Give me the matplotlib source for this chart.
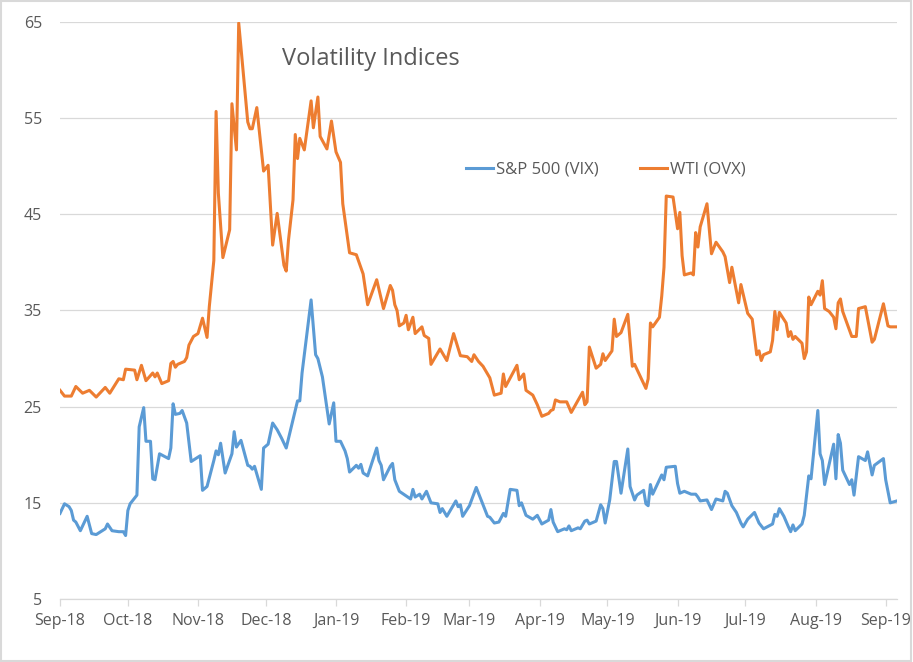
import numpy as np
import pandas as pd
import matplotlib
matplotlib.use("Agg")
import matplotlib.pyplot as plt
import matplotlib.dates as mdates
from matplotlib.patches import Rectangle

# ------------------------------------------------------------------
# data (turning points of each line)
# ------------------------------------------------------------------

vix_dates = [
    "2018-09-04", "2018-09-06", "2018-09-08", "2018-09-09", "2018-09-10", "2018-09-11",
    "2018-09-13", "2018-09-16", "2018-09-18", "2018-09-20", "2018-09-24", "2018-09-25",
    "2018-09-27", "2018-09-30", "2018-10-02", "2018-10-03", "2018-10-04", "2018-10-05",
    "2018-10-08", "2018-10-09", "2018-10-11", "2018-10-12", "2018-10-14", "2018-10-15",
    "2018-10-16", "2018-10-18", "2018-10-22", "2018-10-23", "2018-10-24", "2018-10-25",
    "2018-10-27", "2018-10-28", "2018-10-30", "2018-11-01", "2018-11-05", "2018-11-06",
    "2018-11-08", "2018-11-11", "2018-11-12", "2018-11-13", "2018-11-14", "2018-11-16",
    "2018-11-19", "2018-11-20", "2018-11-21", "2018-11-23", "2018-11-26", "2018-11-27",
    "2018-11-28", "2018-11-29", "2018-12-02", "2018-12-03", "2018-12-05", "2018-12-07",
    "2018-12-09", "2018-12-11", "2018-12-13", "2018-12-18", "2018-12-19", "2018-12-20",
    "2018-12-24", "2018-12-26", "2018-12-27", "2018-12-29", "2019-01-01", "2019-01-03",
    "2019-01-04", "2019-01-06", "2019-01-08", "2019-01-09", "2019-01-10", "2019-01-13",
    "2019-01-14", "2019-01-15", "2019-01-16", "2019-01-18", "2019-01-22", "2019-01-23",
    "2019-01-24", "2019-01-25", "2019-01-28", "2019-01-29", "2019-01-30", "2019-02-01",
    "2019-02-06", "2019-02-07", "2019-02-08", "2019-02-10", "2019-02-11", "2019-02-13",
    "2019-02-15", "2019-02-18", "2019-02-19", "2019-02-20", "2019-02-22", "2019-02-26",
    "2019-02-27", "2019-02-28", "2019-03-01", "2019-03-04", "2019-03-07", "2019-03-12",
    "2019-03-13", "2019-03-15", "2019-03-17", "2019-03-19", "2019-03-20", "2019-03-22",
    "2019-03-25", "2019-03-26", "2019-03-27", "2019-03-29", "2019-04-01", "2019-04-03",
    "2019-04-05", "2019-04-08", "2019-04-09", "2019-04-10", "2019-04-12", "2019-04-15",
    "2019-04-16", "2019-04-17", "2019-04-18", "2019-04-21", "2019-04-22", "2019-04-24",
    "2019-04-25", "2019-04-26", "2019-04-29", "2019-05-01", "2019-05-02", "2019-05-03",
    "2019-05-05", "2019-05-07", "2019-05-08", "2019-05-10", "2019-05-13", "2019-05-14",
    "2019-05-16", "2019-05-17", "2019-05-20", "2019-05-21", "2019-05-22", "2019-05-23",
    "2019-05-24", "2019-05-28", "2019-05-29", "2019-05-30", "2019-06-03", "2019-06-04",
    "2019-06-05", "2019-06-07", "2019-06-10", "2019-06-12", "2019-06-13", "2019-06-14",
    "2019-06-17", "2019-06-19", "2019-06-21", "2019-06-24", "2019-06-25", "2019-06-26",
    "2019-06-28", "2019-06-30", "2019-07-02", "2019-07-03", "2019-07-05", "2019-07-08",
    "2019-07-10", "2019-07-12", "2019-07-16", "2019-07-17", "2019-07-18", "2019-07-19",
    "2019-07-21", "2019-07-23", "2019-07-24", "2019-07-25", "2019-07-26", "2019-07-29",
    "2019-07-30", "2019-08-01", "2019-08-02", "2019-08-05", "2019-08-06", "2019-08-07",
    "2019-08-08", "2019-08-12", "2019-08-13", "2019-08-14", "2019-08-15", "2019-08-16",
    "2019-08-19", "2019-08-20", "2019-08-21", "2019-08-23", "2019-08-26", "2019-08-27",
    "2019-08-29", "2019-08-30", "2019-09-03", "2019-09-04", "2019-09-06", "2019-09-09",
]
vix_values = [
    13.9, 14.9, 14.6, 14.2, 13.2, 13.0,
    12.1, 13.6, 11.8, 11.7, 12.3, 12.8,
    12.1, 12.0, 12.0, 11.6, 14.2, 14.9,
    15.8, 22.9, 24.9, 21.4, 21.4, 17.5,
    17.4, 20.1, 19.6, 20.7, 25.3, 24.2,
    24.3, 24.6, 23.3, 19.3, 19.9, 16.3,
    16.7, 19.4, 20.4, 20.0, 21.2, 18.1,
    20.1, 22.4, 20.8, 21.5, 18.9, 18.8,
    18.5, 18.8, 16.4, 20.7, 21.1, 23.3,
    22.6, 21.7, 20.7, 25.6, 25.6, 28.5,
    36.1, 30.4, 30.0, 28.1, 23.2, 25.4,
    21.4, 21.4, 20.4, 19.6, 18.2, 18.9,
    18.6, 19.0, 18.1, 17.8, 20.7, 19.4,
    18.9, 17.4, 18.8, 19.1, 17.4, 16.2,
    15.4, 16.4, 15.6, 15.9, 15.4, 16.2,
    15.0, 14.9, 14.0, 14.4, 13.6, 15.2,
    14.6, 14.8, 13.6, 14.7, 16.6, 13.6,
    13.5, 12.9, 13.0, 13.9, 13.6, 16.4,
    16.3, 14.7, 15.0, 13.7, 13.3, 13.7,
    12.8, 13.2, 14.3, 13.0, 12.0, 12.3,
    12.2, 12.6, 12.1, 12.4, 12.3, 13.1,
    13.2, 12.8, 13.1, 14.8, 14.4, 12.9,
    15.3, 19.3, 19.3, 16.0, 20.6, 16.7,
    15.3, 15.8, 16.3, 14.9, 14.7, 16.9,
    15.9, 17.9, 17.4, 18.7, 18.8, 17.0,
    16.0, 16.2, 15.9, 15.9, 15.6, 15.2,
    15.3, 14.3, 15.4, 15.2, 16.2, 16.0,
    14.7, 14.0, 12.9, 12.5, 13.3, 14.0,
    12.9, 12.3, 12.8, 13.8, 13.6, 14.4,
    13.6, 12.5, 12.0, 12.7, 12.1, 12.8,
    13.7, 17.8, 17.5, 24.6, 20.1, 19.4,
    16.9, 21.1, 17.5, 22.1, 21.2, 18.4,
    16.9, 17.4, 15.8, 19.8, 19.4, 20.3,
    17.9, 18.9, 19.6, 17.4, 15.0, 15.2,
]

ovx_dates = [
    "2018-09-04", "2018-09-06", "2018-09-09", "2018-09-11", "2018-09-14", "2018-09-17",
    "2018-09-20", "2018-09-24", "2018-09-26", "2018-09-30", "2018-10-02", "2018-10-03",
    "2018-10-07", "2018-10-08", "2018-10-10", "2018-10-12", "2018-10-15", "2018-10-16",
    "2018-10-17", "2018-10-19", "2018-10-22", "2018-10-23", "2018-10-24", "2018-10-25",
    "2018-10-26", "2018-10-29", "2018-10-30", "2018-10-31", "2018-11-02", "2018-11-04",
    "2018-11-06", "2018-11-08", "2018-11-09", "2018-11-11", "2018-11-12", "2018-11-13",
    "2018-11-15", "2018-11-18", "2018-11-19", "2018-11-21", "2018-11-22", "2018-11-26",
    "2018-11-27", "2018-11-28", "2018-11-30", "2018-12-03", "2018-12-05", "2018-12-07",
    "2018-12-09", "2018-12-11", "2018-12-12", "2018-12-13", "2018-12-14", "2018-12-16",
    "2018-12-17", "2018-12-18", "2018-12-19", "2018-12-21", "2018-12-24", "2018-12-25",
    "2018-12-27", "2018-12-28", "2018-12-31", "2019-01-02", "2019-01-04", "2019-01-06",
    "2019-01-07", "2019-01-10", "2019-01-13", "2019-01-16", "2019-01-18", "2019-01-22",
    "2019-01-25", "2019-01-28", "2019-01-29", "2019-01-30", "2019-01-31", "2019-02-01",
    "2019-02-03", "2019-02-04", "2019-02-05", "2019-02-07", "2019-02-08", "2019-02-11",
    "2019-02-12", "2019-02-14", "2019-02-15", "2019-02-19", "2019-02-22", "2019-02-25",
    "2019-02-28", "2019-03-03", "2019-03-05", "2019-03-06", "2019-03-08", "2019-03-10",
    "2019-03-13", "2019-03-15", "2019-03-18", "2019-03-19", "2019-03-20", "2019-03-25",
    "2019-03-26", "2019-03-28", "2019-03-29", "2019-04-01", "2019-04-03", "2019-04-05",
    "2019-04-08", "2019-04-09", "2019-04-10", "2019-04-11", "2019-04-13", "2019-04-16",
    "2019-04-18", "2019-04-23", "2019-04-24", "2019-04-25", "2019-04-26", "2019-04-29",
    "2019-05-01", "2019-05-02", "2019-05-03", "2019-05-06", "2019-05-07", "2019-05-08",
    "2019-05-10", "2019-05-13", "2019-05-15", "2019-05-16", "2019-05-21", "2019-05-22",
    "2019-05-23", "2019-05-24", "2019-05-27", "2019-05-28", "2019-05-29", "2019-05-30",
    "2019-06-02", "2019-06-04", "2019-06-05", "2019-06-06", "2019-06-07", "2019-06-10",
    "2019-06-11", "2019-06-12", "2019-06-13", "2019-06-14", "2019-06-17", "2019-06-19",
    "2019-06-21", "2019-06-24", "2019-06-25", "2019-06-27", "2019-06-28", "2019-07-01",
    "2019-07-02", "2019-07-05", "2019-07-07", "2019-07-09", "2019-07-10", "2019-07-11",
    "2019-07-12", "2019-07-15", "2019-07-16", "2019-07-17", "2019-07-18", "2019-07-19",
    "2019-07-22", "2019-07-23", "2019-07-24", "2019-07-25", "2019-07-26", "2019-07-29",
    "2019-07-30", "2019-07-31", "2019-08-01", "2019-08-02", "2019-08-05", "2019-08-06",
    "2019-08-07", "2019-08-08", "2019-08-10", "2019-08-12", "2019-08-13", "2019-08-14",
    "2019-08-15", "2019-08-16", "2019-08-20", "2019-08-22", "2019-08-23", "2019-08-26",
    "2019-08-29", "2019-08-30", "2019-09-03", "2019-09-05", "2019-09-06", "2019-09-09",
]
ovx_values = [
    26.7, 26.1, 26.1, 27.1, 26.4, 26.7,
    26.0, 27.0, 26.4, 27.9, 27.8, 28.9,
    28.8, 27.8, 29.3, 27.7, 28.5, 28.1,
    28.5, 27.4, 27.7, 29.5, 29.7, 29.1,
    29.4, 29.7, 30.1, 31.4, 32.3, 32.6,
    34.2, 32.2, 35.4, 40.2, 55.7, 47.2,
    40.5, 43.4, 56.5, 51.7, 64.9, 54.6,
    53.9, 53.9, 56.1, 49.5, 50.1, 41.8,
    45.1, 41.5, 39.7, 39.1, 42.3, 46.5,
    53.3, 50.8, 52.9, 51.7, 56.8, 54.0,
    57.2, 53.1, 51.8, 54.7, 51.5, 50.4,
    46.1, 41.0, 40.8, 38.8, 35.6, 38.2,
    35.2, 37.6, 37.1, 35.6, 35.0, 33.4,
    33.7, 34.5, 33.0, 34.3, 32.6, 33.3,
    32.4, 32.1, 29.4, 31.0, 29.8, 32.6,
    30.3, 30.2, 29.7, 30.4, 29.7, 29.2,
    28.0, 26.2, 26.4, 28.4, 27.1, 29.3,
    27.8, 28.4, 26.7, 26.2, 25.2, 24.0,
    24.3, 24.6, 24.7, 25.7, 25.5, 25.5,
    24.4, 26.5, 25.2, 25.5, 31.2, 29.0,
    29.4, 30.5, 29.8, 30.8, 34.1, 32.3,
    32.7, 34.6, 29.2, 29.4, 26.9, 27.9,
    33.7, 33.3, 34.3, 36.5, 39.5, 46.9,
    46.8, 43.5, 45.2, 40.7, 38.7, 38.9,
    38.7, 43.1, 41.6, 43.7, 46.1, 40.9,
    42.1, 41.1, 40.6, 37.9, 39.5, 35.8,
    37.7, 34.7, 34.1, 30.4, 30.8, 29.8,
    30.4, 30.7, 31.9, 34.9, 33.0, 34.8,
    33.7, 32.3, 32.8, 32.0, 32.3, 31.6,
    30.0, 30.7, 36.4, 35.6, 37.0, 36.6,
    38.1, 35.2, 34.9, 34.3, 33.1, 35.8,
    36.2, 34.9, 32.3, 32.3, 35.2, 35.4,
    31.7, 32.0, 35.7, 33.4, 33.3, 33.3,
]

series_labels = ["S&P 500 (VIX)", "WTI (OVX)"]
series_colors = ["#5B9BD5", "#ED7D31"]
title_text = "Volatility Indices"
y_ticks = [5, 15, 25, 35, 45, 55, 65]

# ------------------------------------------------------------------
# figure
# ------------------------------------------------------------------

plt.rcParams["font.family"] = ["Open Sans", "DejaVu Sans"]
text_grey = "#595959"
line_grey = "#D9D9D9"

fig = plt.figure(figsize=(9.13, 6.62), dpi=100)
ax = fig.add_axes([60 / 913, 1 - 599 / 662, (897 - 60) / 913, (599 - 22) / 662])

vix = pd.Series(vix_values, index=pd.to_datetime(vix_dates))
ovx = pd.Series(ovx_values, index=pd.to_datetime(ovx_dates))

ax.plot(vix.index, vix.values, color=series_colors[0], lw=2.2,
        label=series_labels[0], solid_joinstyle="round")
ax.plot(ovx.index, ovx.values, color=series_colors[1], lw=2.2,
        label=series_labels[1], solid_joinstyle="round")

# y axis
ax.set_ylim(5, 65)
ax.set_yticks(y_ticks)
ax.yaxis.grid(True, color=line_grey, lw=0.9)
ax.set_axisbelow(True)
ax.tick_params(axis="y", length=0, pad=13, labelsize=11.5, labelcolor=text_grey)

# x axis: monthly ticks starting from the first date
start = vix.index[0]
end = vix.index[-1]
x_ticks = pd.date_range(start, periods=13, freq=pd.DateOffset(months=1))
ax.set_xlim(start, end)
ax.set_xticks(x_ticks)
ax.xaxis.set_major_formatter(mdates.DateFormatter("%b-%y"))
ax.tick_params(axis="x", length=5, width=0.9, color=line_grey, pad=5,
               labelsize=11.5, labelcolor=text_grey)

for side in ("left", "right", "top"):
    ax.spines[side].set_visible(False)
ax.spines["bottom"].set_color(line_grey)
ax.spines["bottom"].set_linewidth(0.9)

# title inside plot area
fig.text(371 / 913, 1 - 59 / 662, title_text, ha="center", va="center",
         fontsize=17, color=text_grey)

leg = ax.legend(loc="center left", bbox_to_anchor=(466 / 913, 1 - 170 / 662),
                bbox_transform=fig.transFigure, ncol=2, frameon=False,
                fontsize=12, handlelength=1.6, handletextpad=0.2,
                columnspacing=2.5, borderpad=0, borderaxespad=0)
for t in leg.get_texts():
    t.set_color(text_grey)

# chart border
fig.patches.append(Rectangle((0.001, 0.001), 0.997, 0.997, transform=fig.transFigure,
                             fill=False, edgecolor=line_grey, lw=1.5))

fig.savefig("out.png", dpi=100)
